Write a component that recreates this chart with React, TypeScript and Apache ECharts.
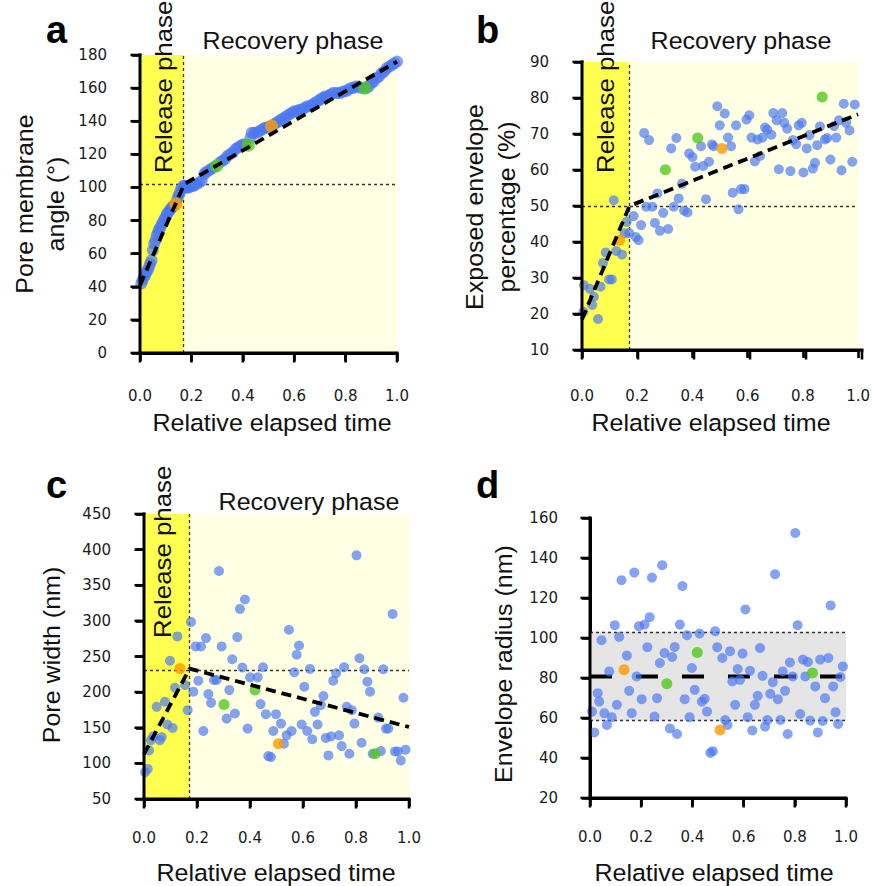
import React, { useEffect, useRef } from 'react';
import * as echarts from 'echarts';

const releaseEnd = 0.172;
const xTickLabels = ['0.0', '0.2', '0.4', '0.6', '0.8', '1.0'];

const aBlue = [
  [0.005, 42], [0.01, 44], [0.015, 46], [0.02, 47], [0.025, 49], [0.03, 50], [0.035, 52], [0.04, 54], [0.045, 56],
  [0.05, 62], [0.055, 66], [0.06, 68], [0.065, 71], [0.07, 73], [0.075, 75], [0.08, 76], [0.085, 78], [0.09, 79],
  [0.095, 81], [0.1, 82], [0.105, 84], [0.11, 85], [0.115, 86], [0.12, 87], [0.125, 88], [0.13, 89], [0.145, 93],
  [0.15, 95], [0.155, 97], [0.16, 99], [0.165, 100], [0.17, 101], [0.175, 101], [0.18, 100], [0.185, 100], [0.19, 100],
  [0.2, 101], [0.205, 101], [0.21, 101], [0.22, 102], [0.23, 103], [0.24, 104], [0.25, 108], [0.255, 109], [0.265, 110],
  [0.275, 111], [0.285, 112], [0.31, 115], [0.32, 116], [0.33, 117], [0.34, 119], [0.35, 120], [0.36, 121], [0.37, 123],
  [0.38, 124], [0.39, 125], [0.4, 126], [0.41, 126], [0.43, 130], [0.435, 133], [0.445, 133], [0.455, 133], [0.465, 134],
  [0.475, 135], [0.485, 136], [0.495, 136], [0.505, 137], [0.52, 138], [0.53, 139], [0.54, 140], [0.55, 141], [0.56, 142],
  [0.57, 143], [0.58, 144], [0.59, 145], [0.6, 146], [0.61, 146], [0.62, 147], [0.63, 147], [0.64, 148], [0.65, 149],
  [0.66, 149], [0.67, 150], [0.68, 151], [0.69, 152], [0.7, 153], [0.71, 154], [0.72, 155], [0.73, 155], [0.74, 156],
  [0.75, 157], [0.76, 157], [0.77, 157], [0.78, 157], [0.79, 158], [0.8, 158], [0.81, 159], [0.82, 160], [0.83, 160],
  [0.84, 161], [0.85, 161], [0.86, 160], [0.88, 160], [0.89, 161], [0.9, 163], [0.91, 164], [0.92, 166], [0.93, 167],
  [0.94, 169], [0.95, 170], [0.96, 172], [0.97, 173], [0.98, 174], [0.99, 175], [1.0, 176],
];
const aOrange = [[0.139, 90], [0.512, 137]];
const aGreen = [[0.298, 113], [0.421, 125.5], [0.875, 160]];
const aFit = [[0, 41], [0.172, 102], [1, 176]];
const aThreshold = 102;

const bBlue = [
  [0.005, 20.6], [0.007, 28], [0.029, 27], [0.043, 24.8], [0.037, 22.5], [0.058, 18.6], [0.067, 27.6], [0.076, 34.2],
  [0.086, 37.1], [0.098, 29.6], [0.108, 29.6], [0.115, 51.6], [0.124, 37.5], [0.145, 36.5], [0.154, 42.4], [0.162, 45.6],
  [0.171, 42.5], [0.187, 47.2], [0.195, 41.4], [0.205, 40.5], [0.214, 44.7], [0.225, 70.3], [0.243, 68.3], [0.233, 49.8],
  [0.255, 49.8], [0.264, 45.3], [0.282, 43.1], [0.273, 53.5], [0.294, 48.1], [0.312, 43.6], [0.323, 66], [0.332, 49.8],
  [0.342, 68.9], [0.35, 52.1], [0.362, 56.2], [0.37, 48.7], [0.382, 48.2], [0.388, 64.6], [0.4, 63.6], [0.41, 60.9],
  [0.431, 66.6], [0.439, 61.1], [0.449, 51.9], [0.46, 62.3], [0.471, 67.1], [0.477, 66.6], [0.49, 77.7], [0.499, 72.4],
  [0.517, 75.7], [0.529, 69], [0.54, 66.6], [0.546, 53.7], [0.558, 72.4], [0.567, 49.1], [0.576, 54.7], [0.588, 54.7],
  [0.596, 74], [0.606, 75.2], [0.614, 69], [0.626, 62.4], [0.636, 68.5], [0.645, 63.9], [0.654, 69], [0.663, 71.8],
  [0.671, 71.2], [0.686, 69.8], [0.693, 75.8], [0.705, 73.8], [0.713, 60.2], [0.725, 75.8], [0.733, 73.1], [0.743, 71.5],
  [0.755, 59.7], [0.764, 68.3], [0.776, 67.2], [0.785, 72.4], [0.796, 73.1], [0.802, 59.3], [0.814, 66], [0.824, 69.7],
  [0.836, 60.4], [0.844, 62], [0.852, 66.9], [0.862, 72.1], [0.88, 68.5], [0.888, 68.9], [0.9, 62.9], [0.913, 72.2],
  [0.921, 69], [0.931, 73.8], [0.94, 59.9], [0.948, 78.4], [0.957, 73.1], [0.969, 71], [0.979, 62.3], [0.988, 78.2],
];
const bOrange = [[0.136, 40.5], [0.507, 66]];
const bGreen = [[0.302, 60.1], [0.419, 68.9], [0.87, 80.3]];
const bFit = [[0, 18.5], [0.172, 50], [1, 75.5]];
const bThreshold = 50;

const cBlue = [
  [0.004, 87.6], [0.014, 92.3], [0.019, 118.2], [0.026, 132.4], [0.035, 138], [0.048, 179.4], [0.06, 132.4], [0.067, 137],
  [0.079, 186.5], [0.088, 154.5], [0.098, 243.9], [0.108, 149.8], [0.117, 206.2], [0.126, 278.2], [0.155, 210], [0.165, 174.7],
  [0.177, 298.5], [0.186, 200.6], [0.195, 264.1], [0.205, 216.1], [0.215, 264.1], [0.224, 145.5], [0.234, 275.9], [0.243, 197.3],
  [0.253, 185], [0.264, 217.1], [0.274, 217.1], [0.283, 370], [0.293, 264.1], [0.312, 162.9], [0.322, 202.9], [0.333, 246.2],
  [0.343, 170], [0.352, 277.3], [0.362, 316.8], [0.371, 234.5], [0.381, 330], [0.391, 148.8], [0.4, 220.8], [0.429, 220.8],
  [0.44, 183.2], [0.449, 234.9], [0.46, 169.1], [0.469, 110.2], [0.479, 108.8], [0.488, 145.5], [0.498, 169.1], [0.517, 155.9],
  [0.528, 127.6], [0.538, 139.4], [0.547, 287.6], [0.557, 145.5], [0.567, 227.9], [0.576, 252.4], [0.585, 265.5], [0.595, 154.5],
  [0.605, 207.6], [0.616, 145.5], [0.626, 232.6], [0.635, 133.8], [0.645, 172.3], [0.655, 154.5], [0.667, 181.8], [0.677, 194.5],
  [0.686, 135.7], [0.696, 111.2], [0.706, 138], [0.714, 216.1], [0.725, 226.5], [0.736, 139.4], [0.746, 124.3], [0.755, 234.9],
  [0.765, 179.4], [0.775, 113.5], [0.784, 174.7], [0.794, 155.9], [0.802, 392], [0.813, 247.6], [0.821, 129], [0.831, 232.1],
  [0.843, 214.7], [0.853, 200.6], [0.863, 113.5], [0.884, 164.3], [0.894, 117.3], [0.903, 232.1], [0.913, 148.8], [0.922, 148.8],
  [0.938, 309.8], [0.947, 116.8], [0.957, 116.8], [0.969, 104.1], [0.979, 192.1], [0.987, 119.2],
];
const cOrange = [[0.136, 233], [0.507, 127.6]];
const cGreen = [[0.302, 182.7], [0.419, 202.9], [0.872, 113.5]];
const cFit = [[0, 113], [0.172, 233], [1, 151]];
const cThreshold = 231;

const dBlue = [
  [0.008, 63.2], [0.017, 52.8], [0.03, 72.4], [0.036, 68.2], [0.045, 98.9], [0.056, 62.4], [0.066, 56.5], [0.075, 83.3],
  [0.085, 60.4], [0.097, 106.4], [0.105, 66.6], [0.114, 100.6], [0.123, 128.9], [0.144, 91.2], [0.153, 73.6], [0.163, 62.4],
  [0.173, 132.7], [0.182, 80.8], [0.191, 105.9], [0.202, 69.4], [0.213, 106.7], [0.224, 95.4], [0.233, 110.4], [0.242, 130.2],
  [0.252, 60.7], [0.262, 69.9], [0.273, 87.5], [0.282, 136.4], [0.291, 92.5], [0.312, 54.8], [0.321, 90.5], [0.331, 95.5],
  [0.34, 52], [0.351, 106.7], [0.361, 126], [0.37, 69.4], [0.379, 101.4], [0.389, 60.4], [0.398, 85], [0.409, 74.1],
  [0.428, 102.2], [0.437, 68.2], [0.448, 69.6], [0.457, 63.2], [0.47, 42.6], [0.48, 43.4], [0.489, 103.4], [0.497, 95.4],
  [0.517, 90], [0.528, 59], [0.537, 56.5], [0.547, 93.4], [0.556, 78.3], [0.567, 66.6], [0.577, 84.5], [0.586, 79.1],
  [0.596, 92.2], [0.607, 114.3], [0.616, 60.4], [0.625, 83.6], [0.634, 53.8], [0.644, 66.6], [0.655, 71.1], [0.664, 95],
  [0.674, 81.1], [0.684, 55.7], [0.693, 59], [0.704, 72.1], [0.714, 77.9], [0.723, 131.9], [0.734, 69.4], [0.744, 59],
  [0.753, 83.3], [0.762, 73.6], [0.772, 52], [0.781, 87.8], [0.792, 80.8], [0.802, 152.5], [0.811, 106.4], [0.821, 62],
  [0.832, 89.2], [0.841, 80.8], [0.851, 88], [0.86, 58.7], [0.88, 75.8], [0.89, 52.8], [0.899, 89.2], [0.909, 58.5],
  [0.918, 69.9], [0.931, 90], [0.94, 116.3], [0.95, 75.8], [0.959, 62.9], [0.969, 57], [0.978, 80.5], [0.988, 85.8],
];
const dOrange = [[0.133, 84.1], [0.508, 54]];
const dGreen = [[0.3, 77.1], [0.419, 92.8], [0.869, 82.5]];
const dMean = 80.8;
const dLow = 58.7;
const dHigh = 103.1;

const BLUE = 'rgba(73,120,242,0.85)';
const ORANGE = '#FF9A00';
const GREEN = '#52C81E';
const BRIGHT_YELLOW = '#FFFF4F';
const LIGHT_YELLOW = '#FFFFE4';
const TICK_FONT = '"DejaVu Sans", Verdana, sans-serif';
const TITLE_FONT = '"Liberation Sans", Arial, Helvetica, sans-serif';
const TITLE_SIZE = 23.5;
const TITLE_SCALE = 1.065;
const AXIS_W = 3;
const TICK_W = 2.6;
const TICK_LEN = 8;

const panels = [
  { grid: { left: 140, top: 55, width: 257, height: 298 }, y: [0, 180, 20], xMargin: 35, yMargin: 33,
    blue: aBlue, orange: aOrange, green: aGreen, fit: aFit, hline: aThreshold, size: 12, phase: true },
  { grid: { left: 582, top: 62, width: 280, height: 288 }, y: [10, 90, 10], xMargin: 38, yMargin: 33,
    blue: bBlue, orange: bOrange, green: bGreen, fit: bFit, hline: bThreshold, size: 10, phase: true },
  { grid: { left: 144, top: 514, width: 265, height: 285 }, y: [50, 450, 50], xMargin: 31, yMargin: 33,
    blue: cBlue, orange: cOrange, green: cGreen, fit: cFit, hline: cThreshold, size: 10, phase: true },
  { grid: { left: 590, top: 518, width: 256, height: 280 }, y: [20, 160, 20], xMargin: 31, yMargin: 32,
    blue: dBlue, orange: dOrange, green: dGreen, fit: null as any, hline: 0, size: 10, phase: false },
];

function txt(text: string, x: number, y: number, o: any = {}) {
  const size = o.size ?? TITLE_SIZE;
  return {
    type: 'text', x, y,
    rotation: o.rotate ? Math.PI / 2 : 0,
    scaleX: o.scaleX ?? TITLE_SCALE,
    z: 100, silent: true,
    style: {
      text,
      font: `${o.bold ? 'bold ' : ''}${size}px ${TITLE_FONT}`,
      fill: o.fill ?? '#111',
      align: o.align ?? 'center',
      verticalAlign: 'middle',
    },
  };
}

// axis frame as filled rects laid on the grid boxes (layout, not data)
function frameGraphics() {
  const out: any[] = [];
  const h = AXIS_W / 2;
  const rect = (x: number, y: number, width: number, height: number) => ({
    type: 'rect', z: 100, silent: true,
    shape: { x, y, width, height },
    style: { fill: '#000000', stroke: null },
  });
  panels.forEach((p) => {
    const { left, top, width, height } = p.grid;
    const bottom = top + height;
    out.push(rect(left - h, bottom - h, width + 2 * h, AXIS_W));
    out.push(rect(left - h, top - h, AXIS_W, height + 2 * h));
    const nX = xTickLabels.length - 1;
    for (let k = 0; k <= nX; k++) {
      const px = left + (k / nX) * width;
      out.push(rect(px - TICK_W / 2, bottom, TICK_W, TICK_LEN + h));
    }
    const nY = Math.round((p.y[1] - p.y[0]) / p.y[2]);
    for (let k = 0; k <= nY; k++) {
      const py = bottom - (k / nY) * height;
      out.push(rect(left - h - TICK_LEN, py - TICK_W / 2, TICK_LEN + h, TICK_W));
    }
  });
  return out;
}

function textGraphics() {
  return [
    txt('a', 46, 30, { bold: true, size: 38, align: 'left', scaleX: 1, fill: '#000' }),
    txt('b', 476, 30, { bold: true, size: 38, align: 'left', scaleX: 1, fill: '#000' }),
    txt('c', 46, 485, { bold: true, size: 38, align: 'left', scaleX: 1, fill: '#000' }),
    txt('d', 476, 485, { bold: true, size: 38, align: 'left', scaleX: 1, fill: '#000' }),
    txt('Pore membrane', 25, 204, { rotate: true }),
    txt('angle (°)', 56, 204, { rotate: true }),
    txt('Exposed envelope', 475, 207, { rotate: true }),
    txt('percentage (%)', 507, 207, { rotate: true }),
    txt('Pore width (nm)', 52, 655, { rotate: true }),
    txt('Envelope radius (nm)', 504, 664, { rotate: true }),
    txt('Relative elapsed time', 272, 423),
    txt('Relative elapsed time', 711, 423),
    txt('Relative elapsed time', 276, 873),
    txt('Relative elapsed time', 714, 873),
    txt('Recovery phase', 293, 40.5),
    txt('Recovery phase', 741, 40.5),
    txt('Recovery phase', 309, 501.5),
    txt('Release phase', 164, 173, { rotate: true, align: 'left', scaleX: 1.1 }),
    txt('Release phase', 606, 173, { rotate: true, align: 'left', scaleX: 1.1 }),
    txt('Release phase', 163, 638, { rotate: true, align: 'left', scaleX: 1.1 }),
  ];
}

function buildOption() {
  const grid: any[] = [];
  const xAxis: any[] = [];
  const yAxis: any[] = [];
  const series: any[] = [];

  panels.forEach((p, i) => {
    grid.push({ ...p.grid, show: p.phase, backgroundColor: p.phase ? LIGHT_YELLOW : 'transparent', borderWidth: 0 });
    const common = {
      axisLine: { show: true, onZero: false, lineStyle: { color: '#000', width: AXIS_W } },
      axisTick: { show: true, length: TICK_LEN, lineStyle: { color: '#000', width: TICK_W } },
      splitLine: { show: false },
    };
    xAxis.push({
      gridIndex: i, type: 'value', min: 0, max: 1, interval: 0.2, ...common,
      axisLabel: {
        margin: p.xMargin, fontSize: 15, fontFamily: TICK_FONT, color: '#1a1a1a',
        formatter: (v: number) => xTickLabels[Math.round(v / 0.2)] ?? '',
      },
    });
    yAxis.push({
      gridIndex: i, type: 'value', min: p.y[0], max: p.y[1], interval: p.y[2], ...common,
      axisLabel: { margin: p.yMargin, fontSize: 15, fontFamily: TICK_FONT, color: '#1a1a1a' },
    });

    const dotted = { color: '#333', width: 1.3, type: [3, 3] };
    series.push({
      type: 'scatter', xAxisIndex: i, yAxisIndex: i, data: p.blue, symbolSize: p.size,
      itemStyle: { color: BLUE }, z: 3, silent: true,
      markArea: p.phase
        ? { silent: true, z: 1, itemStyle: { color: BRIGHT_YELLOW }, data: [[{ xAxis: 0 }, { xAxis: releaseEnd }]] }
        : { silent: true, z: 1, itemStyle: { color: '#E5E5E5' }, data: [[{ xAxis: 0, yAxis: dLow }, { xAxis: 1, yAxis: dHigh }]] },
      markLine: {
        silent: true, z: 2, symbol: 'none', label: { show: false }, lineStyle: dotted,
        data: p.phase ? [{ xAxis: releaseEnd }, { yAxis: p.hline }] : [{ yAxis: dLow }, { yAxis: dHigh }],
      },
    });
    series.push({
      type: 'scatter', xAxisIndex: i, yAxisIndex: i, data: p.orange, symbolSize: p.size + 1,
      itemStyle: { color: ORANGE }, z: 4, silent: true,
    });
    series.push({
      type: 'scatter', xAxisIndex: i, yAxisIndex: i, data: p.green, symbolSize: p.size + 1,
      itemStyle: { color: GREEN }, z: 4, silent: true,
    });
    if (p.fit) {
      series.push({
        type: 'line', xAxisIndex: i, yAxisIndex: i, data: p.fit, symbol: 'none', silent: true, z: 6,
        lineStyle: { color: '#000', width: 3.8, type: [10, 6] },
      });
    } else {
      series.push({
        type: 'line', xAxisIndex: i, yAxisIndex: i, data: [[0, dMean], [1, dMean]], symbol: 'none', silent: true, z: 2,
        lineStyle: { color: '#000', width: 4, type: [22, 24] },
      });
    }
  });

  return {
    animation: false, backgroundColor: '#ffffff', grid, xAxis, yAxis, series,
    graphic: [...textGraphics(), ...frameGraphics()],
  };
}

export default function App() {
  const ref = useRef<HTMLDivElement>(null);
  useEffect(() => {
    document.body.style.margin = '0';
    const chart = echarts.init(ref.current!, undefined, { renderer: 'svg' });
    chart.setOption(buildOption() as any);
    return () => chart.dispose();
  }, []);
  return <div ref={ref} style={{ width: 873, height: 886 }} />;
}
